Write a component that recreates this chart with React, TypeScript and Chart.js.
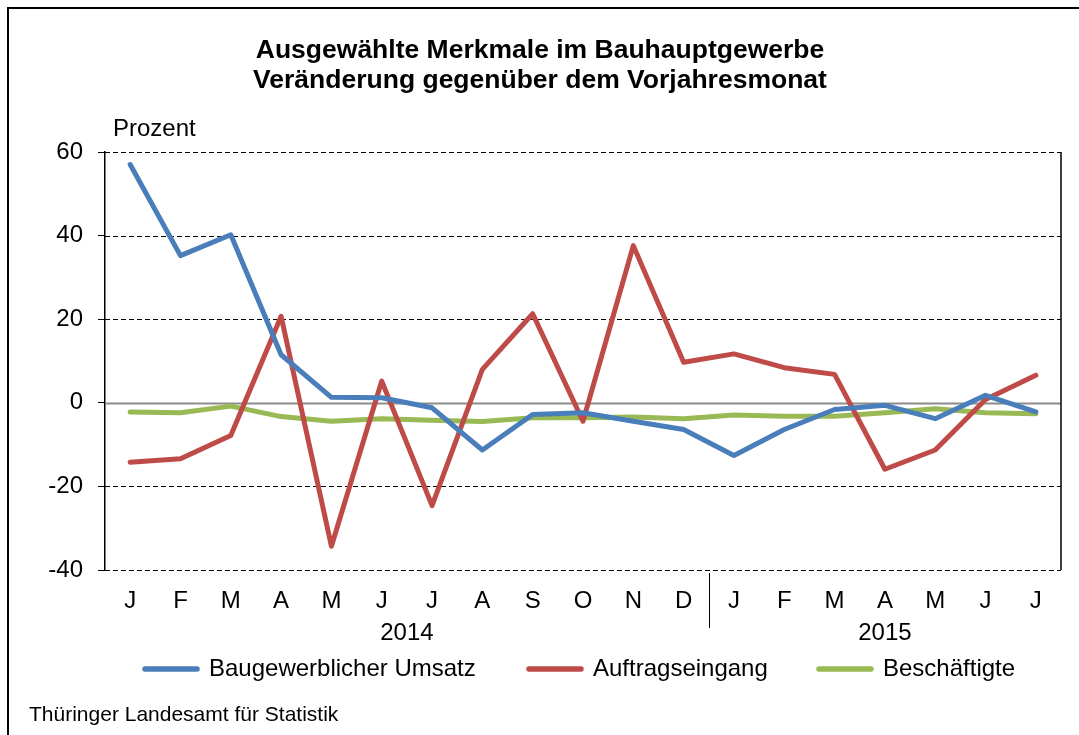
import React, { useEffect, useRef } from "react";
import { Chart, registerables } from "chart.js";

Chart.register(...registerables);

const months = ["J", "F", "M", "A", "M", "J", "J", "A", "S", "O", "N", "D", "J", "F", "M", "A", "M", "J", "J"];
const years = [
  { label: "2014", from: 0, to: 11 },
  { label: "2015", from: 12, to: 18 },
];
const umsatz = [57.0, 35.2, 40.2, 11.5, 1.3, 1.2, -1.2, -11.3, -2.8, -2.4, -4.4, -6.4, -12.6, -6.4, -1.6, -0.6, -3.8, 1.8, -2.2];
const auftrag = [-14.2, -13.4, -7.8, 20.7, -34.3, 5.2, -24.6, 8.0, 21.3, -4.4, 37.6, 9.7, 11.7, 8.4, 6.8, -15.9, -11.3, 0.8, 6.6];
const beschaeftigte = [-2.2, -2.4, -0.8, -3.3, -4.4, -3.8, -4.2, -4.5, -3.6, -3.6, -3.4, -3.8, -2.9, -3.2, -3.2, -2.4, -1.4, -2.4, -2.6];
const yTicks = [60, 40, 20, 0, -20, -40];

const titleLines = ["Ausgewählte Merkmale im Bauhauptgewerbe", "Veränderung gegenüber dem Vorjahresmonat"];
const yUnit = "Prozent";
const source = "Thüringer Landesamt für Statistik";

const FONT = "'Liberation Sans', Arial, sans-serif";
const BLUE = "#4A7EBB";
const RED = "#BE4B48";
const GREEN = "#98B954";

const decor = {
  id: "decor",
  beforeDatasetsDraw(chart: any) {
    const { ctx, chartArea } = chart;
    const y = chart.scales.y;
    ctx.save();
    for (const v of yTicks) {
      const py = Math.round(y.getPixelForValue(v)) + 0.5;
      ctx.beginPath();
      if (v === 0) {
        ctx.setLineDash([]);
        ctx.strokeStyle = "#8c8c8c";
        ctx.lineWidth = 2;
      } else {
        ctx.setLineDash([5, 3]);
        ctx.strokeStyle = "#000";
        ctx.lineWidth = 1;
      }
      ctx.moveTo(chartArea.left, py);
      ctx.lineTo(chartArea.right, py);
      ctx.stroke();
    }
    ctx.setLineDash([]);
    ctx.strokeStyle = "#000";
    ctx.lineWidth = 1.5;
    ctx.beginPath();
    ctx.moveTo(chartArea.right, chartArea.top);
    ctx.lineTo(chartArea.right, chartArea.bottom);
    ctx.stroke();
    ctx.restore();
  },
  afterDraw(chart: any) {
    const { ctx, chartArea } = chart;
    const x = chart.scales.x;
    ctx.save();
    // outer frame (only top and left visible)
    ctx.strokeStyle = "#000";
    ctx.lineWidth = 2;
    ctx.beginPath();
    ctx.moveTo(8, 800);
    ctx.lineTo(8, 8);
    ctx.lineTo(1100, 8);
    ctx.stroke();

    ctx.fillStyle = "#000";
    ctx.textAlign = "center";
    ctx.textBaseline = "middle";
    ctx.font = `bold 26.5px ${FONT}`;
    ctx.fillText(titleLines[0], 540, 51);
    ctx.fillText(titleLines[1], 540, 81);

    ctx.font = `24px ${FONT}`;
    ctx.textAlign = "left";
    ctx.fillText(yUnit, 113, 129);

    // year labels and separators
    ctx.textAlign = "center";
    for (const yr of years) {
      const cx = (x.getPixelForValue(yr.from) + x.getPixelForValue(yr.to)) / 2;
      ctx.fillText(yr.label, cx, 633);
    }
    for (let i = 1; i < years.length; i++) {
      const sx = Math.round((x.getPixelForValue(years[i].from - 1) + x.getPixelForValue(years[i].from)) / 2) + 0.5;
      ctx.lineWidth = 1;
      ctx.beginPath();
      ctx.moveTo(sx, chartArea.bottom + 3);
      ctx.lineTo(sx, chartArea.bottom + 58);
      ctx.stroke();
    }

    // legend
    const items = [
      { label: chart.data.datasets[0].label, color: BLUE, x: 145 },
      { label: chart.data.datasets[1].label, color: RED, x: 529 },
      { label: chart.data.datasets[2].label, color: GREEN, x: 819 },
    ];
    ctx.textAlign = "left";
    ctx.lineCap = "round";
    for (const it of items) {
      ctx.strokeStyle = it.color;
      ctx.lineWidth = 5.5;
      ctx.beginPath();
      ctx.moveTo(it.x, 669);
      ctx.lineTo(it.x + 52, 669);
      ctx.stroke();
      ctx.fillText(it.label, it.x + 64, 669);
    }

    ctx.font = `21px ${FONT}`;
    ctx.fillText(source, 29, 715);
    ctx.restore();
  },
};

export default function App() {
  const ref = useRef<HTMLCanvasElement>(null);
  useEffect(() => {
    if (!ref.current) return;
    const mk = (label: string, data: number[], color: string) => ({
      label,
      data,
      borderColor: color,
      backgroundColor: color,
      borderWidth: 5,
      pointRadius: 0,
      tension: 0,
      borderCapStyle: "round" as const,
      borderJoinStyle: "round" as const,
    });
    const chart = new Chart(ref.current, {
      type: "line",
      data: {
        labels: months,
        datasets: [
          mk("Baugewerblicher Umsatz", umsatz, BLUE),
          mk("Auftragseingang", auftrag, RED),
          mk("Beschäftigte", beschaeftigte, GREEN),
        ],
      },
      options: {
        responsive: false,
        animation: false,
        devicePixelRatio: 1,
        layout: { padding: { left: 45, top: 152, right: 18, bottom: 85 } },
        plugins: { legend: { display: false }, title: { display: false }, tooltip: { enabled: false } },
        scales: {
          x: {
            offset: true,
            grid: { display: false },
            border: { display: false },
            ticks: { color: "#000", font: { family: FONT, size: 24 }, padding: 9, maxRotation: 0, autoSkip: false },
            afterFit: (s: any) => { s.height = 80; },
          },
          y: {
            min: -40,
            max: 60,
            afterBuildTicks: (s: any) => { s.ticks = yTicks.map((v) => ({ value: v })); },
            grid: { drawOnChartArea: false, color: "#000", tickLength: 7, tickColor: "#000" },
            border: { display: true, color: "#000", width: 1.5 },
            ticks: { color: "#000", font: { family: FONT, size: 24 }, padding: 15 },
            afterFit: (s: any) => { s.width = 60; },
          },
        },
      },
      plugins: [decor],
    });
    return () => chart.destroy();
  }, []);
  return (
    <div style={{ position: "fixed", left: 0, top: 0, width: 1079, height: 735, background: "#fff" }}>
      <canvas ref={ref} width={1079} height={735} style={{ display: "block" }} />
    </div>
  );
}
